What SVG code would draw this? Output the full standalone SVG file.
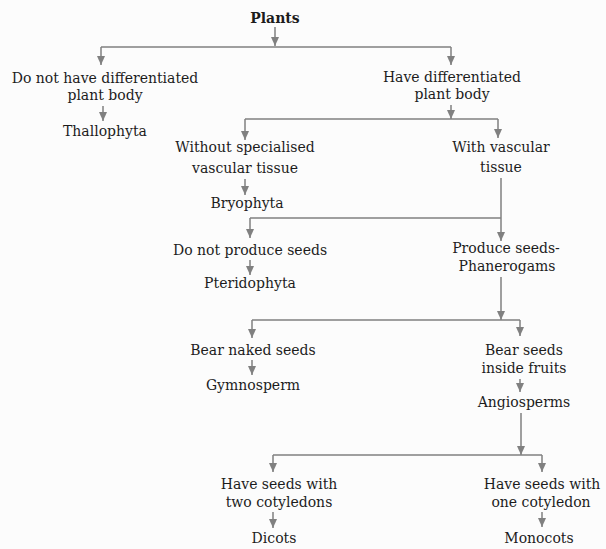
<svg xmlns="http://www.w3.org/2000/svg" width="606" height="549" viewBox="0 0 606 549">
<defs>
<style>
.t{font-family:"DejaVu Serif","Liberation Serif",serif;font-size:14px;fill:#1c1c1c;text-anchor:middle}
.b{font-weight:bold}
.c{stroke:#808080;stroke-width:1.5;fill:none}
.a{marker-end:url(#ah)}
</style>
<marker id="ah" markerUnits="userSpaceOnUse" markerWidth="8" markerHeight="9" refX="4" refY="9" orient="0" viewBox="0 0 8 9">
<path d="M0,0 L8,0 L4,9 z" fill="#808080"/>
</marker>
</defs>
<rect width="606" height="549" fill="#fcfcfc"/>
<g id="connectors">
<path class="c a" d="M275,27 V46"/>
<path class="c" d="M101,47 H451"/>
<path class="c a" d="M101,47 V65"/>
<path class="c a" d="M451,47 V65"/>
<path class="c a" d="M103,106 V121"/>
<path class="c a" d="M451,105 V119"/>
<path class="c" d="M245,119 H498"/>
<path class="c a" d="M245,119 V140"/>
<path class="c a" d="M498,119 V138"/>
<path class="c a" d="M245,179 V195"/>
<path class="c a" d="M501,178 V241"/>
<path class="c" d="M250,218 H501"/>
<path class="c a" d="M250,218 V238"/>
<path class="c a" d="M250,260 V275"/>
<path class="c a" d="M501,277 V320"/>
<path class="c" d="M252,320 H520"/>
<path class="c a" d="M252,320 V338"/>
<path class="c a" d="M520,320 V336"/>
<path class="c a" d="M252,360 V375"/>
<path class="c a" d="M520,379 V392"/>
<path class="c a" d="M521,413 V455"/>
<path class="c" d="M273,455 H542"/>
<path class="c a" d="M273,455 V472"/>
<path class="c a" d="M542,455 V472"/>
<path class="c a" d="M273,512 V528"/>
<path class="c a" d="M542,512 V527"/>
</g>
<g id="plants"><text class="t b" x="275" y="23">Plants</text></g>
<g id="no-diff"><text class="t" x="105" y="83">Do not have differentiated</text><text class="t" x="105" y="100">plant body</text></g>
<g id="thallophyta"><text class="t" x="105" y="136">Thallophyta</text></g>
<g id="diff"><text class="t" x="452" y="82">Have differentiated</text><text class="t" x="452" y="99">plant body</text></g>
<g id="no-vascular"><text class="t" x="245" y="152">Without specialised</text><text class="t" x="245" y="173">vascular tissue</text></g>
<g id="bryophyta"><text class="t" x="247" y="208">Bryophyta</text></g>
<g id="vascular"><text class="t" x="501" y="152">With vascular</text><text class="t" x="501" y="172">tissue</text></g>
<g id="no-seeds"><text class="t" x="250" y="255">Do not produce seeds</text></g>
<g id="pteridophyta"><text class="t" x="250" y="288">Pteridophyta</text></g>
<g id="seeds"><text class="t" x="506" y="253">Produce seeds-</text><text class="t" x="507" y="271">Phanerogams</text></g>
<g id="naked"><text class="t" x="253" y="355">Bear naked seeds</text></g>
<g id="gymnosperm"><text class="t" x="253" y="390">Gymnosperm</text></g>
<g id="fruits"><text class="t" x="524" y="355">Bear seeds</text><text class="t" x="524" y="373">inside fruits</text></g>
<g id="angiosperms"><text class="t" x="524" y="407">Angiosperms</text></g>
<g id="two-cot"><text class="t" x="279" y="489">Have seeds with</text><text class="t" x="279" y="507">two cotyledons</text></g>
<g id="dicots"><text class="t" x="274" y="543">Dicots</text></g>
<g id="one-cot"><text class="t" x="542" y="489">Have seeds with</text><text class="t" x="541" y="507">one cotyledon</text></g>
<g id="monocots"><text class="t" x="539" y="543">Monocots</text></g>
</svg>
